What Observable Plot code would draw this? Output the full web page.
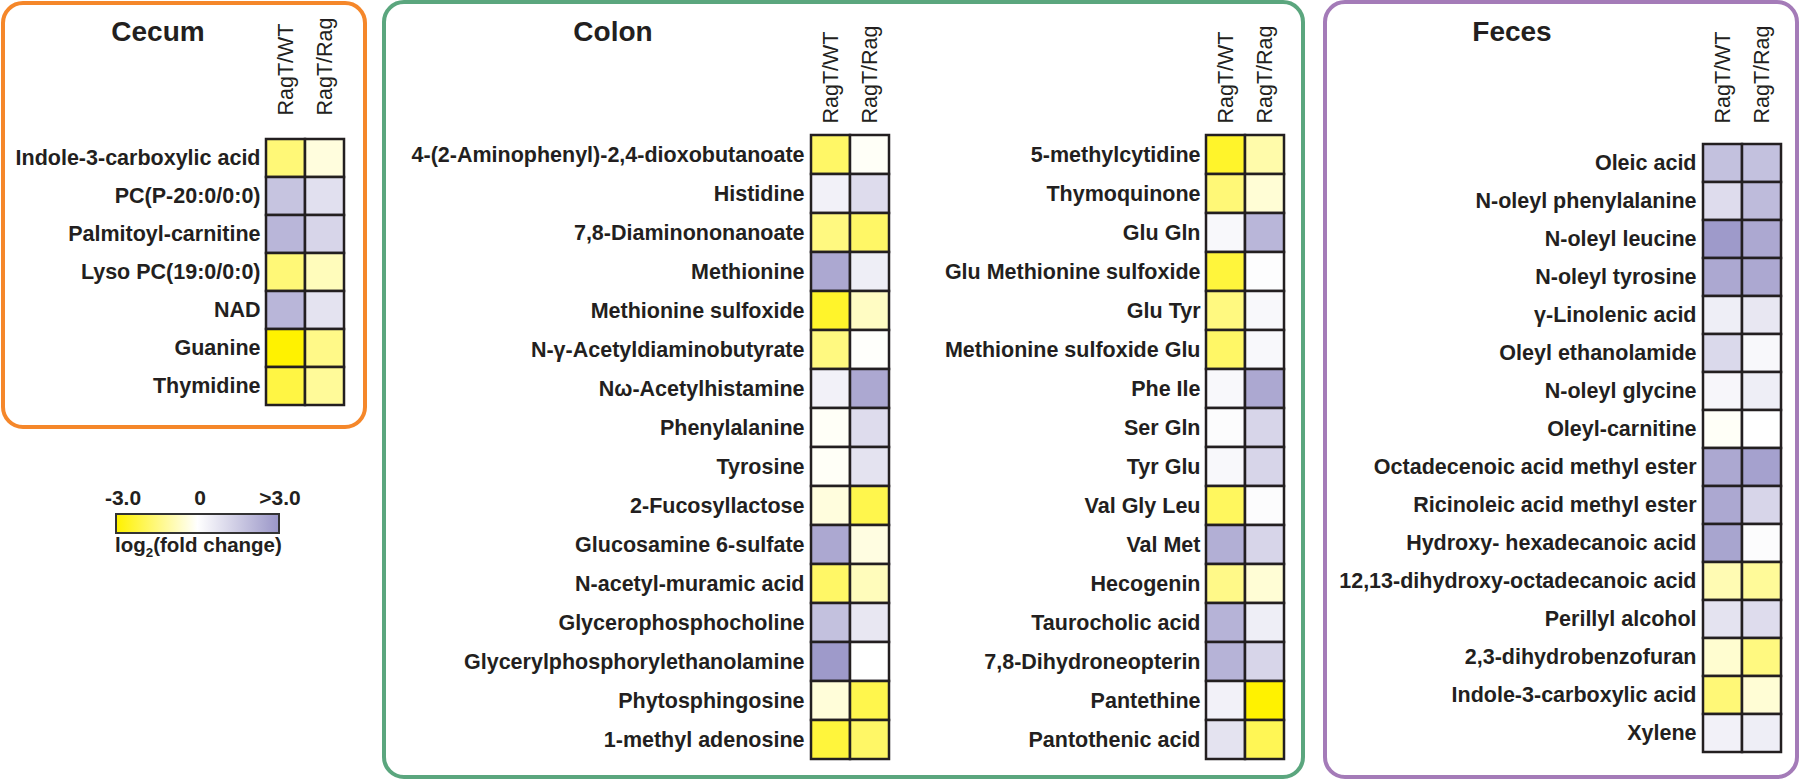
<!DOCTYPE html>
<html><head><meta charset="utf-8">
<script src="https://cdn.jsdelivr.net/npm/d3@7"></script>
<script src="https://cdn.jsdelivr.net/npm/@observablehq/plot@0.6"></script>
<style>
body{margin:0;background:#fff;}
#root{position:relative;width:1800px;height:781px;font-family:"Liberation Sans",Arial,sans-serif;color:#231f20;overflow:hidden;background:#fff}
.frame{position:absolute;box-sizing:border-box;border-style:solid;border-width:4.5px;border-radius:22px}
.title{position:absolute;font-weight:bold;font-size:28px;line-height:1;transform:translateX(-50%);white-space:nowrap}
.hm{position:absolute;top:0}
.hm svg{overflow:visible}
.lg{position:absolute;font-weight:bold;line-height:1;white-space:nowrap}
.lgbar{position:absolute;box-sizing:border-box;border:2px solid #333}
</style></head>
<body><div id="root"></div>
<script>
// ---------- data ----------
const columns = ["RagT/WT", "RagT/Rag"];

const cecumMetabolites = ["Indole-3-carboxylic acid","PC(P-20:0/0:0)","Palmitoyl-carnitine","Lyso PC(19:0/0:0)","NAD","Guanine","Thymidine"];
const cecumRagTWT  = [-1.6, 1.7, 2.1, -1.6, 2.1, -3.0, -2.2];
const cecumRagTRag = [-0.4, 0.9, 1.2, -0.8, 0.8, -1.4, -1.2];

const colonAMetabolites = ["4-(2-Aminophenyl)-2,4-dioxobutanoate","Histidine","7,8-Diaminononanoate","Methionine","Methionine sulfoxide","N-γ-Acetyldiaminobutyrate","Nω-Acetylhistamine","Phenylalanine","Tyrosine","2-Fucosyllactose","Glucosamine 6-sulfate","N-acetyl-muramic acid","Glycerophosphocholine","Glycerylphosphorylethanolamine","Phytosphingosine","1-methyl adenosine"];
const colonARagTWT  = [-1.8, 0.4, -1.5, 2.5, -2.5, -1.5, 0.4, -0.1, -0.1, -0.4, 2.5, -1.8, 1.8, 2.9, -0.45, -2.3];
const colonARagTRag = [-0.1, 1.0, -1.8, 0.5, -0.7, -0.05, 2.5, 1.0, 0.8, -2.1, -0.35, -0.8, 0.7, 0.0, -2.1, -1.8];

const colonBMetabolites = ["5-methylcytidine","Thymoquinone","Glu Gln","Glu Methionine sulfoxide","Glu Tyr","Methionine sulfoxide Glu","Phe Ile","Ser Gln","Tyr Glu","Val Gly Leu","Val Met","Hecogenin","Taurocholic acid","7,8-Dihydroneopterin","Pantethine","Pantothenic acid"];
const colonBRagTWT  = [-2.5, -1.6, 0.2, -2.3, -1.5, -1.8, 0.2, 0.1, 0.2, -1.9, 2.3, -1.4, 2.2, 2.2, 0.4, 0.8];
const colonBRagTRag = [-1.0, -0.5, 2.1, 0.05, 0.2, 0.2, 2.5, 1.2, 1.2, 0.1, 1.2, -0.5, 0.5, 1.2, -3.0, -2.0];

const fecesMetabolites = ["Oleic acid","N-oleyl phenylalanine","N-oleyl leucine","N-oleyl tyrosine","γ-Linolenic acid","Oleyl ethanolamide","N-oleyl glycine","Oleyl-carnitine","Octadecenoic acid methyl ester","Ricinoleic acid methyl ester","Hydroxy- hexadecanoic acid","12,13-dihydroxy-octadecanoic acid","Perillyl alcohol","2,3-dihydrobenzofuran","Indole-3-carboxylic acid","Xylene"];
const fecesRagTWT  = [1.8, 1.0, 2.9, 2.5, 0.5, 1.1, 0.25, -0.1, 2.5, 2.5, 2.6, -0.9, 0.8, -0.55, -1.6, 0.4];
const fecesRagTRag = [1.8, 1.95, 2.5, 2.5, 0.7, 0.2, 0.5, 0.0, 2.7, 1.2, 0.1, -1.2, 1.0, -1.5, -0.5, 0.5];

const panelTitles = ["Cecum", "Colon", "Feces"];
const colorDomain = [-3, 0, 3];
const colorRange = ["#fff200", "#ffffff", "#9b97c8"];
const legendTicks = ["-3.0", "0", ">3.0"];

// ---------- layout ----------
const root = document.getElementById("root");
const FONT = '"Liberation Sans", Arial, sans-serif';
const INK = "#231f20";

function addDiv(cls, css, html) {
  const d = document.createElement("div");
  d.className = cls;
  Object.assign(d.style, css);
  if (html != null) d.innerHTML = html;
  root.appendChild(d);
  return d;
}

// frames
addDiv("frame", {left: "1px", top: "1px", width: "366px", height: "428px", borderColor: "#f5872a"});
addDiv("frame", {left: "382px", top: "0px", width: "923px", height: "779px", borderColor: "#5ba67e"});
addDiv("frame", {left: "1323px", top: "0px", width: "476px", height: "779px", borderColor: "#a47bb8"});

// titles
[158, 613, 1512].forEach((cx, i) => {
  addDiv("title", {left: cx + "px", top: "18px"}, panelTitles[i]);
});

function heat(names, wt, rag, cfg) {
  const data = names.flatMap((n, i) => [
    {name: n, col: columns[0], v: wt[i]},
    {name: n, col: columns[1], v: rag[i]}
  ]);
  const width = cfg.marginLeft + cfg.cellsW + cfg.marginRight;
  const height = cfg.marginTop + cfg.cellsH + cfg.marginBottom;
  const p = Plot.plot({
    width, height,
    marginLeft: cfg.marginLeft, marginTop: cfg.marginTop,
    marginRight: cfg.marginRight, marginBottom: cfg.marginBottom,
    x: {domain: columns, padding: 0},
    y: {domain: names, padding: 0},
    color: {type: "linear", domain: colorDomain, range: colorRange, clamp: true},
    style: {background: "transparent", fontFamily: FONT, fontSize: "21.5px", color: INK, overflow: "visible"},
    marks: [
      Plot.cell(data, {x: "col", y: "name", fill: "v", stroke: INK, strokeWidth: 2.5, inset: 0}),
      Plot.axisX({anchor: "top", tickRotate: -90, tickSize: 0, tickPadding: cfg.tickPadding, label: null, fontSize: 21.5, fill: INK}),
      Plot.axisY({anchor: "left", tickSize: 0, tickPadding: 6, label: null, fontSize: 21.5, fontWeight: "bold", fill: INK})
    ]
  });
  const wrap = addDiv("hm", {left: cfg.left + "px"});
  wrap.appendChild(p);
}

heat(cecumMetabolites, cecumRagTWT, cecumRagTRag,
  {left: 0, marginLeft: 266, cellsW: 78, marginRight: 16, marginTop: 136, cellsH: 271, marginBottom: 10, tickPadding: 21});
heat(colonAMetabolites, colonARagTWT, colonARagTRag,
  {left: 390, marginLeft: 420, cellsW: 79, marginRight: 10, marginTop: 135, cellsH: 624, marginBottom: 10, tickPadding: 12});
heat(colonBMetabolites, colonBRagTWT, colonBRagTRag,
  {left: 900, marginLeft: 306, cellsW: 78, marginRight: 10, marginTop: 135, cellsH: 624, marginBottom: 10, tickPadding: 12});
heat(fecesMetabolites, fecesRagTWT, fecesRagTRag,
  {left: 1330, marginLeft: 372, cellsW: 79, marginRight: 10, marginTop: 137, cellsH: 621, marginBottom: 10, tickPadding: 14});

// legend
[123, 200, 280].forEach((cx, i) => {
  addDiv("lg", {left: cx + "px", top: "487px", fontSize: "21px", transform: "translateX(-50%)"}, legendTicks[i]);
});
addDiv("lgbar", {left: "115px", top: "513px", width: "165px", height: "21px",
  background: `linear-gradient(to right, ${colorRange[0]}, ${colorRange[1]} 50%, ${colorRange[2]})`});
addDiv("lg", {left: "115px", top: "535px", fontSize: "20.5px"}, 'log<sub style="font-size:0.65em;vertical-align:-0.35em;line-height:0">2</sub>(fold change)');
</script>
</body></html>
